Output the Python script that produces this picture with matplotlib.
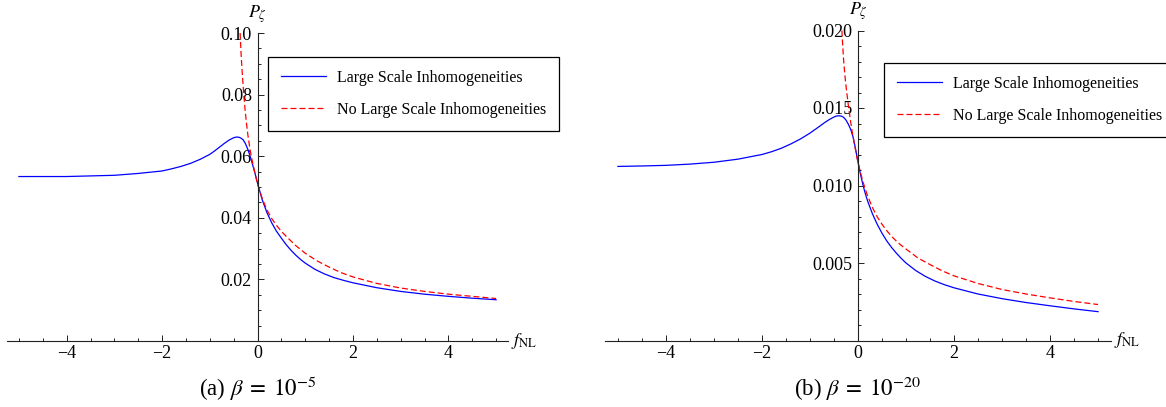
import matplotlib
matplotlib.use('Agg')
import matplotlib.pyplot as plt
import matplotlib.transforms as mtransforms
from matplotlib.ticker import MultipleLocator

plt.rcParams['font.family'] = ['Liberation Serif', 'DejaVu Serif']
plt.rcParams['mathtext.fontset'] = 'stix'

# panel (a): beta = 1e-5
a_x_blue = [-5, -4, -3, -2.5, -2, -1.8, -1.6, -1.4, -1.2, -1.0, -0.9, -0.8, -0.7, -0.6,
            -0.5, -0.45, -0.4, -0.35, -0.3, -0.25, -0.2, -0.15, -0.1, -0.05, 0,
            0.1, 0.2, 0.3, 0.4, 0.5, 0.6, 0.7, 0.8, 0.9, 1.0, 1.2, 1.4, 1.6, 1.8, 2.0,
            2.5, 3, 3.5, 4, 4.5, 5]
a_y_blue = [0.0534, 0.0534, 0.0538, 0.0544, 0.0552, 0.0559, 0.0567, 0.0577, 0.0590,
            0.0606, 0.0617, 0.0629, 0.0641, 0.0652, 0.0660, 0.0662, 0.0662, 0.0659,
            0.0653, 0.0640, 0.0621, 0.0598, 0.0571, 0.0543, 0.0513,
            0.0458, 0.0416, 0.0383, 0.0356, 0.0334, 0.0313, 0.0295, 0.0279, 0.0265,
            0.0253, 0.0233, 0.0218, 0.0206, 0.0197, 0.0189,
            0.0173, 0.0161, 0.0152, 0.0145, 0.0139, 0.0134]
a_x_red = [-0.365, -0.345, -0.32, -0.29, -0.26, -0.23, -0.2, -0.16, -0.12, -0.08, -0.04,
           0, 0.1, 0.2, 0.3, 0.4, 0.5, 0.6, 0.8, 1.0, 1.25, 1.5, 1.75, 2, 2.5, 3, 3.5,
           4, 4.5, 5]
a_y_red = [0.100, 0.0935, 0.0870, 0.0805, 0.0750, 0.0705, 0.0667, 0.0625, 0.0592,
           0.0563, 0.0536, 0.0510, 0.0462, 0.0425, 0.0397, 0.0375, 0.0356, 0.0340,
           0.0310, 0.0285, 0.0260, 0.0240, 0.0222, 0.0208, 0.0187, 0.0172, 0.0161,
           0.0152, 0.0145, 0.0138]
a_yticks = [0.02, 0.04, 0.06, 0.08, 0.10]
a_ylabels = ['0.02', '0.04', '0.06', '0.08', '0.10']

# panel (b): beta = 1e-20
b_x_blue = [-5, -4.5, -4, -3.5, -3, -2.5, -2, -1.8, -1.6, -1.4, -1.2, -1.0, -0.9, -0.8,
            -0.7, -0.6, -0.5, -0.45, -0.4, -0.35, -0.3, -0.25, -0.2, -0.15, -0.1, -0.05,
            0, 0.05, 0.1, 0.15, 0.2, 0.3, 0.4, 0.5, 0.6, 0.7, 0.8, 0.9, 1.0, 1.2, 1.4,
            1.6, 1.8, 2.0, 2.5, 3, 3.5, 4, 4.5, 5]
b_y_blue = [0.01123, 0.01126, 0.01130, 0.01138, 0.01150, 0.01170, 0.01200, 0.01218,
            0.01240, 0.01268, 0.01300, 0.01338, 0.01360, 0.01382, 0.01405, 0.01425,
            0.01442, 0.01448, 0.01450, 0.01448, 0.01440, 0.01422, 0.01395, 0.01360,
            0.01310, 0.01235, 0.01150, 0.01075, 0.01008, 0.00950, 0.00900, 0.00818,
            0.00750, 0.00692, 0.00642, 0.00600, 0.00563, 0.00530, 0.00500, 0.00452,
            0.00414, 0.00384, 0.00360, 0.00340, 0.00300, 0.00270, 0.00245, 0.00224,
            0.00204, 0.00186]
b_x_red = [-0.335, -0.32, -0.3, -0.28, -0.26, -0.23, -0.2, -0.16, -0.12, -0.08, -0.04,
           0, 0.05, 0.1, 0.15, 0.2, 0.3, 0.4, 0.5, 0.6, 0.7, 0.8, 0.9, 1.0, 1.25, 1.5,
           1.75, 2, 2.5, 3, 3.5, 4, 4.5, 5]
b_y_red = [0.0200, 0.0191, 0.0181, 0.01735, 0.0167, 0.0159, 0.01515, 0.01425, 0.01345,
           0.01275, 0.0121, 0.0115, 0.01085, 0.01028, 0.00978, 0.00933, 0.00858,
           0.00798, 0.00750, 0.00708, 0.00672, 0.00641, 0.00614, 0.00590, 0.00532,
           0.00490, 0.00450, 0.00417, 0.00368, 0.00329, 0.00300, 0.00275, 0.00252,
           0.00232]
b_yticks = [0.005, 0.010, 0.015, 0.020]
b_ylabels = ['0.005', '0.010', '0.015', '0.020']

x_major = [-4, -2, 0, 2, 4]
legend_labels = ['Large Scale Inhomogeneities', 'No Large Scale Inhomogeneities']


def draw_panel(ax, xb, yb, xr, yr, xlim, ymax, yticks, ylabels, yminor, caption, leg_anchor):
    ax.plot(xb, yb, color='#0000ff', lw=0.9, label=legend_labels[0])
    ax.plot(xr, yr, color='#ff0000', lw=0.9, ls=(0, (4.8, 2.4)), label=legend_labels[1],
            clip_on=False)
    ax.set_xlim(*xlim)
    ax.set_ylim(0, ymax)

    # Mathematica-like axes crossing at the origin
    for side in ['top', 'right']:
        ax.spines[side].set_visible(False)
    ax.spines['left'].set_position(('data', 0))
    for side in ['left', 'bottom']:
        ax.spines[side].set_linewidth(0.8)
        ax.spines[side].set_color('#222222')

    ax.set_xticks(x_major)
    ax.xaxis.set_minor_locator(MultipleLocator(0.5))
    ax.set_yticks(yticks)
    ax.set_yticklabels(ylabels)
    ax.yaxis.set_minor_locator(MultipleLocator(yminor))
    ax.tick_params(which='both', direction='in', color='#222222', width=0.7,
                   labelsize=13)
    ax.tick_params(which='major', length=4)
    ax.tick_params(which='minor', length=2.5)
    ax.tick_params(axis='x', pad=3)
    ax.tick_params(axis='y', pad=4)

    ax.annotate(r'$P_\zeta$', xy=(0, ymax), xycoords='data', xytext=(0, 6),
                textcoords='offset points', ha='center', va='bottom', fontsize=13)
    ax.text(xlim[1] + 0.07, 0, r'$f_{\mathrm{NL}}$', ha='left', va='center',
            fontsize=13, clip_on=False)

    trans = mtransforms.blended_transform_factory(ax.transData, fig.transFigure)
    ax.text(0, 1 - 389 / 407, caption, transform=trans, ha='center', va='center',
            fontsize=16.5)

    leg = ax.legend(loc='upper left', bbox_to_anchor=leg_anchor,
                    bbox_transform=fig.transFigure, borderaxespad=0, fontsize=11.5,
                    frameon=True, fancybox=False, edgecolor='black', framealpha=1,
                    handlelength=2.8, handletextpad=0.7, labelspacing=1.0,
                    borderpad=0.8)
    leg.get_frame().set_linewidth(0.9)


fig = plt.figure(figsize=(11.66, 4.07), dpi=100)

ax1 = fig.add_axes([7 / 1166, 66 / 407, 501 / 1166, 308 / 407])
draw_panel(ax1, a_x_blue, a_y_blue, a_x_red, a_y_red, (-5.25, 5.25), 0.10,
           a_yticks, a_ylabels, 0.005, r'(a) $\beta\;=\;10^{-5}$',
           (268 / 1166, 1 - 57 / 407))

ax2 = fig.add_axes([605 / 1166, 66.5 / 407, 506 / 1166, 310 / 407])
draw_panel(ax2, b_x_blue, b_y_blue, b_x_red, b_y_red, (-5.27, 5.27), 0.020,
           b_yticks, b_ylabels, 0.001, r'(b) $\beta\;=\;10^{-20}$',
           (884 / 1166, 1 - 63 / 407))

fig.savefig('out.png', dpi=100)
